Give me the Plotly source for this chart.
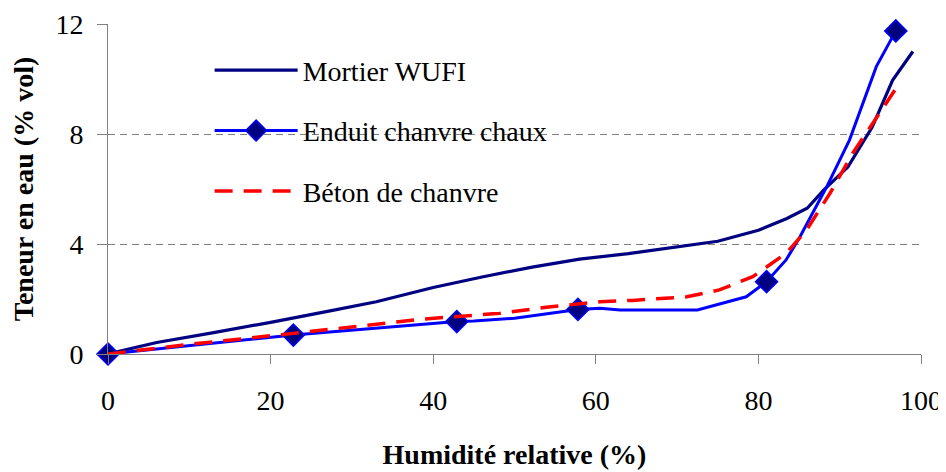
import plotly.graph_objects as go

# Mortier WUFI
rh_mortier = [0, 6, 13, 20, 27, 33, 40, 46, 52, 58, 64, 70, 75, 80, 83.5, 86, 88, 91, 94, 96.5, 99]
w_mortier = [0, 0.42, 0.78, 1.15, 1.55, 1.9, 2.42, 2.8, 3.15, 3.45, 3.65, 3.9, 4.1, 4.5, 4.93, 5.3, 5.95, 6.8, 8.25, 9.95, 11.0]

# Enduit chanvre chaux (line points; markers only on measured points)
rh_enduit = [0, 22.8, 42.9, 45, 50, 57.8, 60.5, 63, 72.5, 78.5, 81, 83.4, 85, 88.4, 91.2, 94.5, 96.9]
w_enduit = [0, 0.69, 1.18, 1.2, 1.3, 1.62, 1.66, 1.6, 1.6, 2.08, 2.63, 3.42, 4.2, 6.08, 7.78, 10.45, 11.75]
measured = [True, True, True, False, False, True, False, False, False, False, True, False, False, False, False, False, True]

# Béton de chanvre
rh_beton = [0, 10, 22.8, 27.7, 38.4, 48.2, 53.9, 60.5, 64.5, 71.2, 75.2, 79.3, 83.4, 85.9, 88.8, 91.6, 94.1, 96.8]
w_beton = [0, 0.35, 0.75, 0.91, 1.26, 1.48, 1.7, 1.9, 1.95, 2.08, 2.33, 2.81, 3.66, 4.5, 5.84, 7.3, 8.39, 9.6]

x_ticks = [0, 20, 40, 60, 80, 100]
y_ticks = [0, 4, 8, 12]

FONT = "Liberation Serif, Times New Roman, serif"
NAVY = "#000080"
BLUE = "#0000FF"
RED = "#FF0000"

fig = go.Figure()

fig.add_trace(go.Scatter(
    x=rh_mortier, y=w_mortier, mode="lines", name="Mortier WUFI",
    line=dict(color=NAVY, width=3.2), legendgroup="a", cliponaxis=False))

fig.add_trace(go.Scatter(
    x=rh_enduit, y=w_enduit, mode="lines+markers", name="Enduit chanvre chaux",
    line=dict(color=BLUE, width=3), legendgroup="b", cliponaxis=False,
    marker=dict(symbol="diamond", size=17,
                color=[NAVY if m else "rgba(0,0,0,0)" for m in measured],
                line=dict(color=[BLUE if m else "rgba(0,0,0,0)" for m in measured], width=1.5))))

fig.add_trace(go.Scatter(
    x=rh_beton, y=w_beton, mode="lines", name="Béton de chanvre",
    line=dict(color=RED, width=3.5, dash="18px,11px"), legendgroup="c", cliponaxis=False))

# white backing of the legend box (hides the gridlines behind it)
fig.add_shape(type="rect", xref="paper", yref="paper",
              x0=0.0455, x1=0.621, y0=0.39, y1=0.936,
              fillcolor="white", line=dict(width=0), layer="between")

fig.update_layout(
    width=938, height=464,
    margin=dict(l=100, r=25, t=16, b=118),
    paper_bgcolor="white", plot_bgcolor="white",
    font=dict(family=FONT, size=28, color="black"),
    showlegend=True,
    legend=dict(x=0.125, y=0.935, xanchor="left", yanchor="top",
                bgcolor="rgba(255,255,255,0)", borderwidth=0,
                font=dict(family=FONT, size=28, color="black"),
                tracegroupgap=21, itemwidth=83, traceorder="grouped"),
    xaxis=dict(range=[0, 100], tickvals=x_ticks, ticktext=[str(v) for v in x_ticks],
               showgrid=False, zeroline=False, automargin=False,
               showline=True, linecolor="#808080", linewidth=1,
               ticks="outside", ticklen=9, tickcolor="#808080", tickwidth=1,
               ticklabelstandoff=12,
               tickfont=dict(family=FONT, size=28),
               title=dict(text="<b>Humidité relative (%)</b>", standoff=29,
                          font=dict(family=FONT, size=28))),
    yaxis=dict(range=[0, 12], tickvals=y_ticks, ticktext=[str(v) for v in y_ticks],
               showgrid=True, gridcolor="#808080", gridwidth=1, griddash="7px,5px",
               zeroline=False, automargin=False,
               showline=True, linecolor="#808080", linewidth=1,
               ticks="outside", ticklen=10, tickcolor="#808080", tickwidth=1,
               ticklabelstandoff=8,
               tickfont=dict(family=FONT, size=28),
               title=dict(text="<b>Teneur en eau (% vol)</b>", standoff=14,
                          font=dict(family=FONT, size=28))),
)

fig.write_html("out.html")
